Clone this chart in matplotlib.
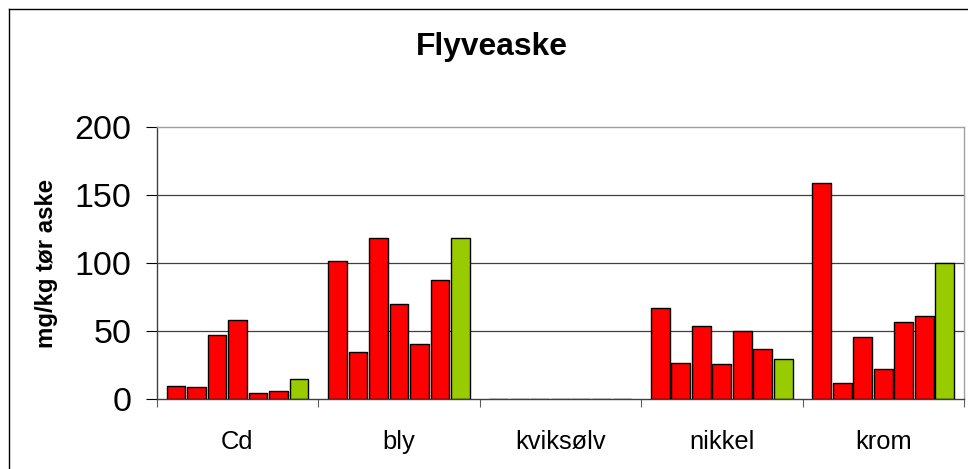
import numpy as np
import matplotlib
matplotlib.use("Agg")
import matplotlib.pyplot as plt
from matplotlib.lines import Line2D

plt.rcParams['font.family'] = ['Liberation Sans', 'DejaVu Sans']

# data
categories = ['Cd', 'bly', 'kviksølv', 'nikkel', 'krom']
series = [
    [10, 102, 0, 67, 159],
    [9, 35, 0, 27, 12],
    [47, 119, 0.5, 54, 46],
    [58, 70, 0, 26, 22],
    [5, 41, 0, 50, 57],
    [6, 88, 0, 37, 61],
    [15, 119, 0.5, 30, 100],
]
series_colors = ['#FF0000'] * 6 + ['#99CC00']
yticks = [0, 50, 100, 150, 200]

fig = plt.figure(figsize=(9.68, 4.69), dpi=100)
ax = fig.add_axes([156.7/968, 1 - 399.3/469, (964 - 156.7)/968, (399.3 - 127.5)/469])

x = np.arange(len(categories))
pitch = 0.127
w = 0.116
for i, (vals, col) in enumerate(zip(series, series_colors)):
    pos = x + (i - 3) * pitch
    # light grey shadow to the right, like the original chart
    ax.bar(pos + 0.006, vals, w, color='#a0a0a0', linewidth=0, zorder=2)
    ax.bar(pos, vals, w, color=col, edgecolor='black', linewidth=1.0, zorder=3)

ax.set_xlim(-0.5, len(categories) - 0.5)
ax.set_ylim(0, 200)
ax.set_yticks(yticks)
ax.set_yticklabels([str(t) for t in yticks], fontsize=24.5)
ax.tick_params(axis='y', direction='out', length=8, width=0.8, pad=10)
for t in yticks[1:-1]:
    ax.axhline(t, color='#404040', linewidth=0.9, zorder=1)

# group boundaries as major ticks, names in the middle as minor ticks
ax.set_xticks(np.arange(-0.5, len(categories), 1.0))
ax.set_xticklabels([])
ax.set_xticks(x, minor=True)
ax.set_xticklabels(categories, minor=True, fontsize=18.4)
ax.tick_params(axis='x', which='major', direction='out', length=6, width=0.8, color='#606060')
ax.tick_params(axis='x', which='minor', length=0, pad=22)

ax.spines['left'].set_color('#404040')
ax.spines['bottom'].set_color('#404040')
ax.spines['top'].set_color('#a0a0a0')
ax.spines['right'].set_color('#a0a0a0')
for s in ax.spines.values():
    s.set_linewidth(1.0)
    s.set_zorder(4)

ax.set_ylabel('mg/kg tør aske', fontsize=17.3, fontweight='bold', labelpad=12)
fig.text(492/968, 1 - 47/469, 'Flyveaske', fontsize=22.9, fontweight='bold',
         ha='center', va='center')

# outer chart frame (cut at right and bottom)
fig.add_artist(Line2D([8.5/968, 8.5/968], [0, 1 - 9/469], transform=fig.transFigure,
                      color='black', linewidth=1.0))
fig.add_artist(Line2D([8.5/968, 1], [1 - 9/469, 1 - 9/469], transform=fig.transFigure,
                      color='black', linewidth=1.0))

fig.savefig('out.png', dpi=100)
